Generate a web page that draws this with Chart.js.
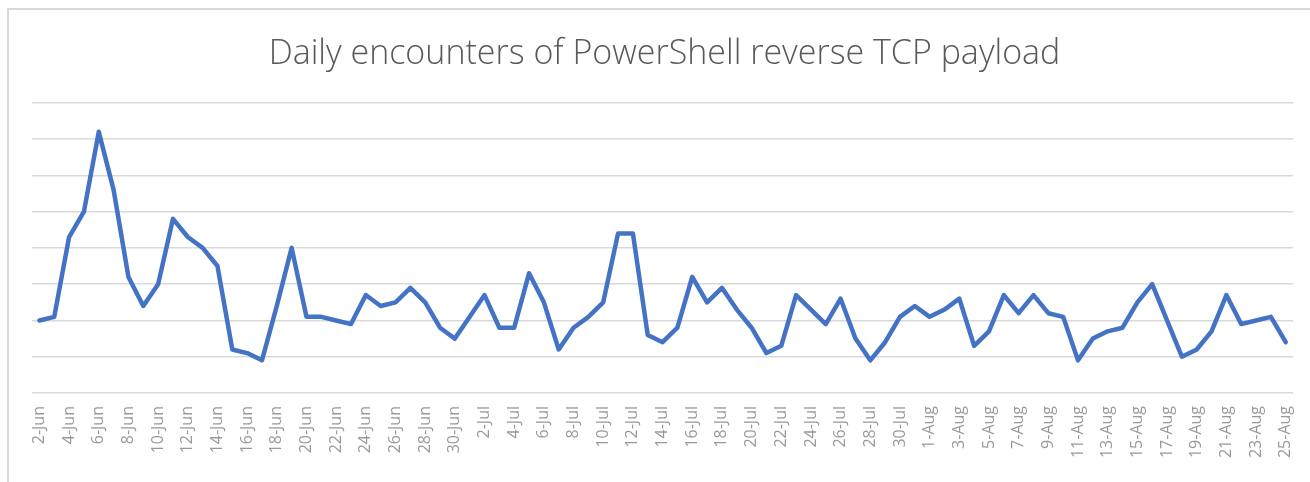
<!DOCTYPE html>
<html>
<head>
<meta charset="utf-8">
<script src="https://cdn.jsdelivr.net/npm/chart.js@4"></script>
<style>
  html, body { margin: 0; padding: 0; background: #fff; }
  #wrap { position: relative; width: 1310px; height: 482px; }
  #frame { position: absolute; left: 7px; top: 8px; width: 1400px; height: 600px;
           border-left: 2px solid #d9d9d9; border-top: 2px solid #d9d9d9; }
  canvas { position: absolute; left: 0; top: 0; }
</style>
</head>
<body>
<div id="wrap">
  <div id="frame"></div>
  <canvas id="encChart" width="1310" height="482"></canvas>
</div>
<script>
const days = [
  "2-Jun", "3-Jun", "4-Jun", "5-Jun", "6-Jun", "7-Jun", "8-Jun", "9-Jun", "10-Jun", "11-Jun",
  "12-Jun", "13-Jun", "14-Jun", "15-Jun", "16-Jun", "17-Jun", "18-Jun", "19-Jun", "20-Jun", "21-Jun",
  "22-Jun", "23-Jun", "24-Jun", "25-Jun", "26-Jun", "27-Jun", "28-Jun", "29-Jun", "30-Jun",
  "1-Jul", "2-Jul", "3-Jul", "4-Jul", "5-Jul", "6-Jul", "7-Jul", "8-Jul", "9-Jul", "10-Jul",
  "11-Jul", "12-Jul", "13-Jul", "14-Jul", "15-Jul", "16-Jul", "17-Jul", "18-Jul", "19-Jul", "20-Jul",
  "21-Jul", "22-Jul", "23-Jul", "24-Jul", "25-Jul", "26-Jul", "27-Jul", "28-Jul", "29-Jul", "30-Jul", "31-Jul",
  "1-Aug", "2-Aug", "3-Aug", "4-Aug", "5-Aug", "6-Aug", "7-Aug", "8-Aug", "9-Aug", "10-Aug",
  "11-Aug", "12-Aug", "13-Aug", "14-Aug", "15-Aug", "16-Aug", "17-Aug", "18-Aug", "19-Aug", "20-Aug",
  "21-Aug", "22-Aug", "23-Aug", "24-Aug", "25-Aug"
];

// no y labels so units are gridlines x10
const encounters = [
  20, 21, 43, 50, 72, 56, 32, 24, 30, 48,
  43, 40, 35, 12, 11, 9, 24, 40, 21, 21,
  20, 19, 27, 24, 25, 29, 25, 18, 15,
  21, 27, 18, 18, 33, 25, 12, 18, 21, 25,
  44, 44, 16, 14, 18, 32, 25, 29, 23, 18,
  11, 13, 27, 23, 19, 26, 15, 9, 14, 21, 24,
  21, 23, 26, 13, 17, 27, 22, 27, 22, 21,
  9, 15, 17, 18, 25, 30, 20, 10, 12, 17,
  27, 19, 20, 21, 14
];

const gridMax = 80;

const ctx = document.getElementById("encChart").getContext("2d");
new Chart(ctx, {
  type: "line",
  data: {
    labels: days,
    datasets: [{
      label: "Encounters",
      data: encounters,
      borderColor: "#4472C4",
      borderWidth: 4.5,
      borderJoinStyle: "round",
      borderCapStyle: "round",
      pointRadius: 0,
      tension: 0,
      fill: false
    }]
  },
  options: {
    responsive: false,
    animation: false,
    layout: { padding: { left: 32, right: 13, top: 0, bottom: 0 } },
    plugins: {
      legend: { display: false },
      tooltip: { enabled: false },
      title: {
        display: true,
        text: "Daily encounters of PowerShell reverse TCP payload",
        color: "#595959",
        font: { family: "'Open Sans'", size: 34, weight: 300 },
        padding: { top: 34, bottom: 28 }
      }
    },
    scales: {
      x: {
        offset: true,
        grid: { display: false },
        border: { display: false },
        afterFit: (scale) => { scale.height = 89; },
        ticks: {
          autoSkip: false,
          maxRotation: 90,
          minRotation: 90,
          padding: 5,
          color: "#999999",
          font: { family: "'Open Sans'", size: 16 },
          callback: function (val, i) { return i % 2 === 0 ? days[i] : ""; }
        }
      },
      y: {
        min: 0,
        max: gridMax,
        afterFit: (scale) => { scale.width = 0; },
        border: { display: false },
        grid: { color: "#d9d9d9", lineWidth: 1.5, drawTicks: false },
        ticks: { display: false, stepSize: 10 }
      }
    }
  }
});
</script>
</body>
</html>
